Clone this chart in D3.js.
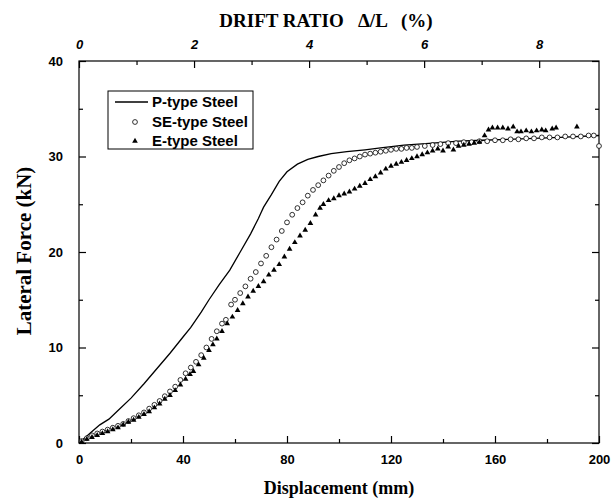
<!DOCTYPE html>
<html lang="en">
<head>
<meta charset="UTF-8">
<title>Lateral force vs displacement</title>
<script src="https://d3js.org/d3.v7.min.js"></script>
<style>
  body { margin: 0; background: #fff; }
  .tick text { font-family: "Liberation Sans", Arial, sans-serif; font-weight: bold; font-size: 13px; }
</style>
</head>
<body>
<div id="figure" style="width:612px;height:501px"></div>
<script>
// data (displacement mm, lateral force kN)
const pType = [[0,0],[2.5,0.6],[5,1.2],[8,1.9],[11.5,2.5],[15,3.4],[20,4.7],[25,6.2],[30,7.8],[35,9.4],
  [40,11.1],[43,12.1],[47,13.7],[50,15.0],[54,16.6],[58,18.1],[62,20.0],[66,21.9],[69,23.5],[70,24.1],
  [71,24.7],[74,26.0],[77,27.4],[80,28.4],[84,29.2],[88,29.7],[92,30.0],[97,30.3],[103,30.5],[110,30.7],
  [116,30.9],[125,31.2],[136,31.4],[146,31.6],[155,31.7],[165,31.8],[175,31.9],[185,32.0],[200,32.2]];

const seType = [[1,0.2],[3,0.5],[5,0.8],[7,1.0],[9,1.2],[11,1.4],[13,1.6],[15,1.8],[17,2.0],[19,2.3],
  [21,2.6],[23,2.9],[25,3.2],[27,3.6],[29,4.0],[31,4.4],[33,4.9],[35,5.4],[37,5.9],[39,6.6],[41,7.3],
  [43,7.9],[45,8.5],[47,9.2],[49,10.0],[51,10.9],[53,11.7],[55,12.5],[56.5,12.9],[58.5,14.5],[60,15.0],
  [62,15.7],[64,16.4],[66,17.2],[68,17.9],[70,18.8],[72,19.6],[74,20.5],[76,21.3],[78,22.2],[80,23.1],
  [82,23.9],[84,24.6],[86,25.2],[88,25.9],[90,26.5],[92,27.0],[94,27.5],[96,28.0],[98,28.5],[100,28.9],
  [102,29.3],[104,29.6],[106,29.8],[108,30.0],[110,30.2],[112,30.3],[114,30.4],[116,30.5],[118,30.6],
  [120,30.7],[122,30.8],[124,30.8],[126,30.9],[128,30.9],[130,31.0],[133,31.1],[136,31.2],[139,31.3],
  [142,31.4],[145,31.4],[148,31.5],[151,31.5],[154,31.6],[157,31.6],[160,31.7],[163,31.7],[166,31.8],
  [169,31.8],[172,31.9],[175,31.9],[178,32.0],[181,32.0],[184,32.0],[187,32.1],[190,32.1],[193,32.1],
  [196,32.2],[198,32.2],[200,31.1]];

const eType = [[1,0.1],[3,0.4],[5,0.6],[7,0.8],[9,1.0],[11,1.2],[13,1.4],[15,1.6],[17,1.9],[19,2.2],
  [21,2.4],[23,2.7],[25,3.0],[27,3.3],[29,3.7],[31,4.1],[33,4.6],[35,5.0],[37,5.5],[39,6.1],[41,6.7],
  [42.7,7.2],[44,7.5],[46,8.2],[48,8.9],[50,9.7],[51.5,10.3],[53,10.9],[55,11.7],[57,12.5],[59,13.2],
  [61,13.9],[63,14.6],[65,15.3],[67,15.9],[69,16.4],[71,16.9],[73,17.6],[75,18.1],[77,18.7],[79,19.5],
  [81,20.3],[83,21.0],[85,21.7],[87,22.3],[89,23.0],[91,23.9],[92.7,24.6],[94,25.0],[96,25.4],[98,25.6],
  [100,25.9],[102,26.1],[104,26.3],[106,26.6],[108,26.9],[110,27.2],[112,27.6],[114,27.9],[116,28.3],
  [118,28.7],[120,29.0],[122,29.2],[124,29.4],[126,29.6],[128,29.8],[130,30.0],[132,30.2],[134,30.4],
  [136,30.6],[138,30.8],[140,30.6],[142,31.0],[144,30.7],[146,31.1],[148,31.2],[150,31.3],[152,31.4],
  [154,31.5],[156,32.2],[157.5,32.8],[159,33.0],[161,33.0],[163,33.0],[165,32.9],[167,33.1],[168.5,32.6],
  [170,32.6],[172,32.7],[174,32.6],[176,32.7],[178,32.8],[179.5,32.7],[182,32.9],[183.5,33.0],[191.5,33.1]];

const xTicks = [0, 40, 80, 120, 160, 200];
const xMinor = [20, 60, 100, 140, 180];
const yTicks = [0, 10, 20, 30, 40];
const yMinor = [5, 15, 25, 35];
const driftTicks = [0, 2, 4, 6, 8];
const driftMinor = [1, 3, 5, 7];
const driftMax = 9.04; // % at 200 mm
const legendLabels = ["P-type Steel", "SE-type Steel", "E-type Steel"];

const pLeft = 79, pRight = 599, pTop = 61, pBottom = 443;
const svg = d3.select("#figure").append("svg").attr("width", 612).attr("height", 501);

const x = d3.scaleLinear().domain([0, 200]).range([pLeft, pRight]);
const xTop = d3.scaleLinear().domain([0, driftMax]).range([pLeft, pRight]);
const y = d3.scaleLinear().domain([0, 40]).range([pBottom, pTop]);

// frame
svg.append("rect").attr("x", pLeft).attr("y", pTop).attr("width", pRight - pLeft).attr("height", pBottom - pTop)
  .style("fill", "none").style("stroke", "#000").style("stroke-width", 1.2);

function axis(g, a) { g.call(a); g.select(".domain").remove(); g.selectAll(".tick line").style("stroke", "#000").style("stroke-width", 1.2); }

svg.append("g").attr("transform", `translate(0,${pBottom})`)
  .call(g => axis(g, d3.axisBottom(x).tickValues(xTicks).tickSize(-7).tickPadding(12)));
svg.append("g").attr("transform", `translate(0,${pBottom})`)
  .call(g => axis(g, d3.axisBottom(x).tickValues(xMinor).tickSize(-4).tickFormat("")));

svg.append("g").attr("transform", `translate(0,${pTop})`)
  .call(g => axis(g, d3.axisTop(xTop).tickValues(driftTicks).tickSize(-7).tickPadding(12)))
  .selectAll(".tick text").style("font-style", "italic");
svg.append("g").attr("transform", `translate(0,${pTop})`)
  .call(g => axis(g, d3.axisTop(xTop).tickValues(driftMinor).tickSize(-4).tickFormat("")));

svg.append("g").attr("transform", `translate(${pLeft},0)`)
  .call(g => axis(g, d3.axisLeft(y).tickValues(yTicks).tickSize(-7).tickPadding(16)));
svg.append("g").attr("transform", `translate(${pLeft},0)`)
  .call(g => axis(g, d3.axisLeft(y).tickValues(yMinor).tickSize(-4).tickFormat("")));

svg.append("g").attr("transform", `translate(${pRight},0)`)
  .call(g => axis(g, d3.axisRight(y).tickValues(yTicks).tickSize(-7).tickFormat("")));
svg.append("g").attr("transform", `translate(${pRight},0)`)
  .call(g => axis(g, d3.axisRight(y).tickValues(yMinor).tickSize(-4).tickFormat("")));

// axis titles
const serif = '"Liberation Serif", "Times New Roman", serif';
svg.append("text").attr("x", 326).attr("y", 27).attr("text-anchor", "middle")
  .style("font-family", serif).style("font-weight", "bold").style("font-size", "19px")
  .style("white-space", "pre").text("DRIFT RATIO   \u0394/L   (%)");
svg.append("text").attr("x", 339).attr("y", 494).attr("text-anchor", "middle")
  .style("font-family", serif).style("font-weight", "bold").style("font-size", "18px")
  .text("Displacement (mm)");
svg.append("text").attr("transform", "translate(31,251) rotate(-90)").attr("text-anchor", "middle")
  .style("font-family", serif).style("font-weight", "bold").style("font-size", "21px")
  .text("Lateral Force (kN)");

// curves
const line = d3.line().x(d => x(d[0])).y(d => y(d[1]));
svg.append("path").datum(pType).attr("d", line)
  .style("fill", "none").style("stroke", "#000").style("stroke-width", 1.3);

svg.append("g").selectAll("circle").data(seType).join("circle")
  .attr("cx", d => x(d[0])).attr("cy", d => y(d[1])).attr("r", 2.4)
  .style("fill", "#fff").style("stroke", "#000").style("stroke-width", 0.8);

const tri = d3.symbol().type(d3.symbolTriangle).size(14);
svg.append("g").selectAll("path").data(eType).join("path")
  .attr("transform", d => `translate(${x(d[0])},${y(d[1])})`).attr("d", tri)
  .style("fill", "#000");

// legend
const lg = svg.append("g");
lg.append("rect").attr("x", 108).attr("y", 91).attr("width", 145).attr("height", 58)
  .style("fill", "#fff").style("stroke", "#000").style("stroke-width", 1);
const ly = [102, 122, 141];
lg.append("line").attr("x1", 115).attr("x2", 148).attr("y1", ly[0]).attr("y2", ly[0])
  .style("stroke", "#000").style("stroke-width", 1.3);
lg.append("circle").attr("cx", 135).attr("cy", ly[1]).attr("r", 2.4)
  .style("fill", "#fff").style("stroke", "#000").style("stroke-width", 0.8);
lg.append("path").attr("transform", `translate(135,${ly[2]})`).attr("d", tri).style("fill", "#000");
lg.selectAll("text.lab").data(legendLabels).join("text").attr("class", "lab")
  .attr("x", 152).attr("y", (d, i) => ly[i] + 5)
  .style("font-family", '"Liberation Sans", Arial, sans-serif').style("font-weight", "bold").style("font-size", "15px")
  .text(d => d);
</script>
</body>
</html>
